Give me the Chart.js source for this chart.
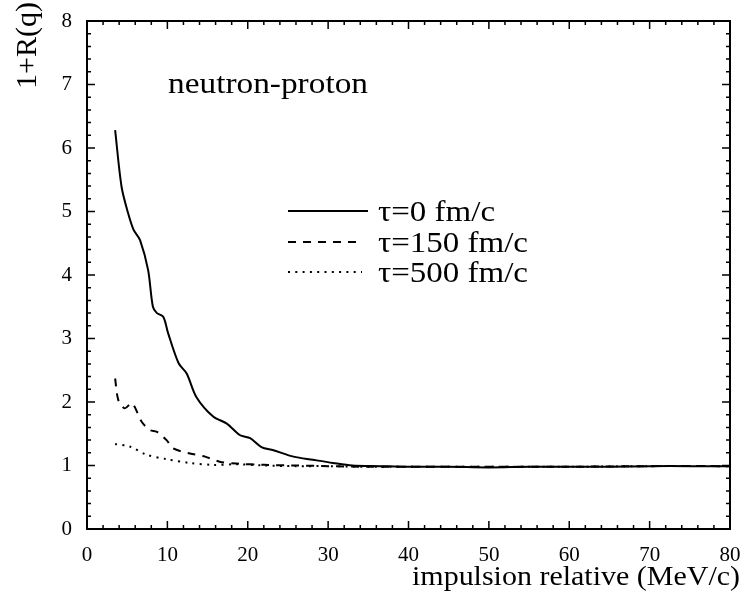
<!DOCTYPE html>
<html>
<head>
<meta charset="utf-8">
<script src="https://cdn.jsdelivr.net/npm/chart.js@4.4.0/dist/chart.umd.min.js"></script>
<style>
  html, body { margin: 0; padding: 0; background: #fff; }
  #wrap { width: 745px; height: 591px; }
</style>
</head>
<body>
<div id="wrap"><canvas id="rChart" width="745" height="591"></canvas></div>
<script>
// tau = 0 fm/c
const q0 = [3.5, 4.3, 5.1, 5.8, 6.6, 7.6, 8.2, 8.7, 9.5, 10.1, 11.4, 12.4, 13.6, 15.7, 17.4, 19.0, 20.3, 21.7, 23.2, 25.7, 28.1, 30.6, 33, 36.4, 40, 45, 50, 55, 60, 65, 70, 75, 80];
const r0 = [6.28, 5.39, 4.98, 4.71, 4.55, 4.08, 3.5, 3.40, 3.34, 3.08, 2.61, 2.45, 2.08, 1.77, 1.66, 1.48, 1.43, 1.29, 1.24, 1.14, 1.09, 1.04, 1.0, 0.99, 0.98, 0.98, 0.97, 0.98, 0.98, 0.98, 0.99, 0.99, 0.99];
// tau = 150 fm/c
const q150 = [3.5, 3.9, 4.7, 5.6, 6.8, 7.8, 8.7, 9.9, 10.7, 12.8, 14.7, 16.5, 18.6, 22, 26, 30, 35, 40, 50, 60, 70, 80];
const r150 = [2.37, 2.03, 1.90, 1.98, 1.69, 1.56, 1.53, 1.40, 1.27, 1.19, 1.14, 1.06, 1.03, 1.01, 1.0, 0.99, 0.98, 0.98, 0.98, 0.98, 0.99, 0.99];
// tau = 500 fm/c
const q500 = [3.5, 5.3, 7.4, 9.9, 12.8, 15.7, 18.6, 22, 26, 30, 35, 40, 50, 60, 70, 80];
const r500 = [1.34, 1.30, 1.17, 1.10, 1.04, 1.01, 1.02, 1.0, 0.99, 0.99, 0.98, 0.98, 0.98, 0.98, 0.99, 0.99];

const seriesLabels = ['\u03c4=0 fm/c', '\u03c4=150 fm/c', '\u03c4=500 fm/c'];
const seriesDash = [[], [8, 7], [2, 5.3]];
const xTitle = 'impulsion relative (MeV/c)';
const yTitle = '1+R(q)';
const note = 'neutron-proton';

const serif = '"Liberation Serif", "Times New Roman", serif';

function pts(xs, ys) {
  return xs.map((x, i) => ({ x: x, y: ys[i] }));
}

// the scan is a bit wider than tall, so text gets stretched sideways to fit
function wideText(ctx, text, x, y, sx) {
  ctx.save();
  ctx.translate(x, y);
  ctx.scale(sx, 1);
  ctx.fillText(text, 0, 0);
  ctx.restore();
}

const framePlugin = {
  id: 'frame',
  afterDraw(chart) {
    const ctx = chart.ctx;
    const a = chart.chartArea;
    const xs = chart.scales.x, ys = chart.scales.y;
    ctx.save();
    ctx.strokeStyle = '#000';
    ctx.lineWidth = 2;
    ctx.strokeRect(a.left, a.top, a.right - a.left, a.bottom - a.top);

    ctx.lineWidth = 1.5;
    ctx.beginPath();
    for (let v = 0; v <= 80; v += 2) {
      const px = xs.getPixelForValue(v);
      const len = v % 10 === 0 ? 8 : 4;
      ctx.moveTo(px, a.bottom); ctx.lineTo(px, a.bottom - len);
      ctx.moveTo(px, a.top); ctx.lineTo(px, a.top + len);
    }
    for (let i = 0; i <= 40; i++) {
      const py = ys.getPixelForValue(i * 0.2);
      const len = i % 5 === 0 ? 8 : 4;
      ctx.moveTo(a.left, py); ctx.lineTo(a.left + len, py);
      ctx.moveTo(a.right, py); ctx.lineTo(a.right - len, py);
    }
    ctx.stroke();

    ctx.fillStyle = '#000';
    ctx.textAlign = 'left';
    ctx.textBaseline = 'alphabetic';

    // x title, right end near 740
    ctx.font = '27px ' + serif;
    let w = ctx.measureText(xTitle).width;
    wideText(ctx, xTitle, 412, 585, 328 / w);

    // y title, rotated, top end near y=2
    ctx.save();
    ctx.font = '30px ' + serif;
    ctx.translate(36, 2);
    ctx.rotate(-Math.PI / 2);
    ctx.textAlign = 'right';
    ctx.fillText(yTitle, 0, 0);
    ctx.restore();

    // annotation
    ctx.font = '29px ' + serif;
    w = ctx.measureText(note).width;
    wideText(ctx, note, 168, 93, 200 / w);

    // legend
    const rows = [211, 242, 272];
    const ends = [368, 362, 362];
    const sx = 150 / ctx.measureText(seriesLabels[1]).width;
    chart.data.datasets.forEach((ds, i) => {
      ctx.save();
      ctx.lineWidth = 2;
      ctx.setLineDash(ds.borderDash || []);
      ctx.beginPath();
      ctx.moveTo(288, rows[i]);
      ctx.lineTo(ends[i], rows[i]);
      ctx.stroke();
      ctx.restore();
      wideText(ctx, ds.label, 378, rows[i] + 10, sx);
    });
    ctx.restore();
  }
};

new Chart(document.getElementById('rChart'), {
  type: 'line',
  data: {
    datasets: [
      { label: seriesLabels[0], data: pts(q0, r0), borderDash: seriesDash[0] },
      { label: seriesLabels[1], data: pts(q150, r150), borderDash: seriesDash[1] },
      { label: seriesLabels[2], data: pts(q500, r500), borderDash: seriesDash[2] }
    ].map(d => Object.assign(d, {
      borderColor: '#000',
      borderWidth: 2,
      pointRadius: 0,
      fill: false,
      tension: 0.3
    }))
  },
  options: {
    responsive: false,
    animation: false,
    events: [],
    layout: { padding: { top: 21, right: 15, left: 0, bottom: 0 } },
    plugins: { legend: { display: false }, tooltip: { enabled: false } },
    scales: {
      x: {
        type: 'linear',
        min: 0, max: 80,
        grid: { display: false, drawTicks: false },
        border: { display: false },
        ticks: { stepSize: 10, padding: 14, color: '#000', font: { family: serif, size: 21 }, maxRotation: 0 },
        afterFit(s) { s.height = 62; s.paddingLeft = 0; s.paddingRight = 0; }
      },
      y: {
        min: 0, max: 8,
        grid: { display: false, drawTicks: false },
        border: { display: false },
        ticks: { stepSize: 1, padding: 15, color: '#000', font: { family: serif, size: 21 } },
        afterFit(s) { s.width = 87; s.paddingTop = 0; s.paddingBottom = 0; }
      }
    }
  },
  plugins: [framePlugin]
});
</script>
</body>
</html>
